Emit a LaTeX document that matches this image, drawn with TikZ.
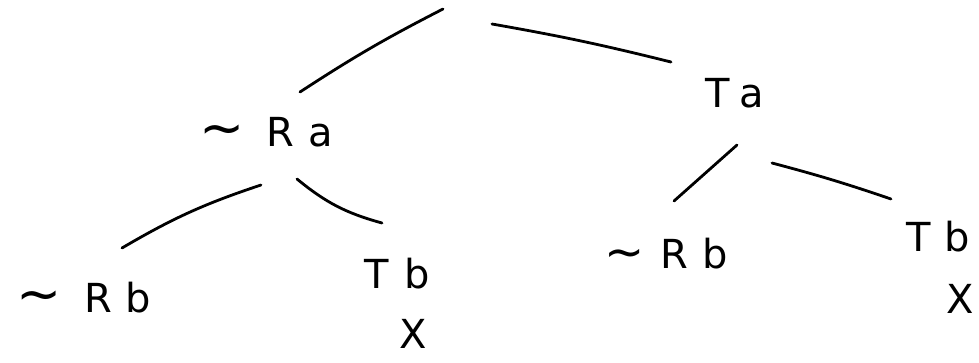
\documentclass[tikz,border=0pt]{standalone}
\usepackage{fontspec}
\setmainfont{DejaVu Sans}
\begin{document}
\begin{tikzpicture}[x=1pt,y=-1pt,
  pen/.style={line width=2.8pt,line cap=round},
  hand/.style={font=\fontsize{40}{42}\selectfont,inner sep=0pt,anchor=center}]
\useasboundingbox[fill=white] (0,0) rectangle (979,362);
% labels
\node[hand] (ra)  at (266,132) {{\fontsize{54}{56}\selectfont\textasciitilde}\hspace{22pt}R\hspace{14pt}a};
\node[hand] (ta)  at (735,93)  {T\hspace{10pt}a};
\node[hand] (rbl) at (84,298)  {{\fontsize{54}{56}\selectfont\textasciitilde}\hspace{22pt}R\hspace{14pt}b};
\node[hand] (tbl) at (397,274) {T\hspace{16pt}b};
\node[hand] (xl)  at (413,334) {X};
\node[hand] (rbr) at (666,254) {{\fontsize{48}{50}\selectfont\textasciitilde}\hspace{16pt}R\hspace{14pt}b};
\node[hand] (tbr) at (938,237) {T\hspace{14pt}b};
\node[hand] (xr)  at (960,299) {X};
% connector end points
\coordinate (top1) at (443,9);
\coordinate (top2) at (492,24);
\coordinate (raU) at (300,92);
\coordinate (taU) at (671,62);
\coordinate (raL) at (261,185);
\coordinate (raR) at (297,179);
\coordinate (rblU) at (122,248);
\coordinate (tblU) at (382,223);
\coordinate (taL) at (737,145);
\coordinate (taR) at (772,163);
\coordinate (rbrU) at (674,201);
\coordinate (tbrU) at (891,199);
% connectors
\draw[pen] (top1) to[bend right=3] (raU);
\draw[pen] (top2) to[bend left=2] (taU);
\draw[pen] (raL) to[bend right=6] (rblU);
\draw[pen] (raR) to[bend right=12] (tblU);
\draw[pen] (taL) -- (rbrU);
\draw[pen] (taR) to[bend left=2] (tbrU);
\end{tikzpicture}
\end{document}
